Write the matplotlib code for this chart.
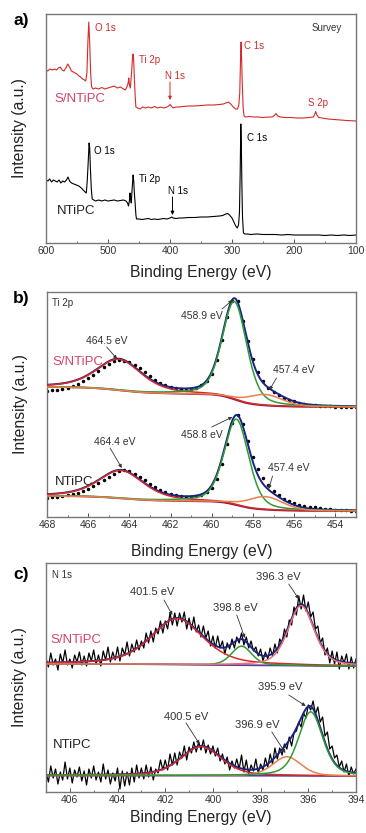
import numpy as np
import matplotlib.pyplot as plt
from matplotlib.ticker import MultipleLocator

plt.rcParams['font.family'] = ['Liberation Sans', 'DejaVu Sans']

# ---------------- a) survey spectra (binding energy, intensity) ----------------
survey_e_s = [600, 597, 594, 590, 586, 583, 580, 577, 574, 571, 568, 565, 562, 559, 556, 553, 550, 547, 544,
              541, 538, 536, 534, 532.5, 531, 529.5, 528, 526.5, 524, 520, 515, 510, 505, 500, 495, 490, 485,
              480, 475, 472, 469.5, 467.5, 466.5, 465.5, 464, 462, 460.5, 459.5, 458.5, 457.5, 456, 455, 452,
              448, 444, 440, 435, 430, 425, 420, 415, 410, 405, 402, 400, 398, 395, 390, 385, 380, 370, 360,
              350, 340, 330, 320, 314, 310, 306, 302, 298, 294, 291, 289, 287.5, 286, 285.3, 284.5, 283.5,
              282, 280.5, 278, 272, 265, 258, 250, 240, 235, 231, 229, 226.5, 222, 215, 205, 195, 185, 175,
              169, 167, 165, 163, 160, 155, 145, 135, 125, 115, 100]
survey_i_s = [173, 172, 174, 173, 174, 173, 175, 176, 173, 172, 175, 179, 176, 172, 171, 170, 169, 167, 166,
              164, 163, 162, 170, 200, 221, 200, 170, 156, 154, 155, 154, 155.5, 154, 155, 156, 157, 155,
              156, 154, 153, 156, 160, 165, 158, 155, 170, 185, 189, 182, 165, 145, 136, 135,
              134, 136, 135, 136, 135, 136.5, 135, 136, 135, 136, 137, 138.5, 137, 135, 136, 136, 136.5, 137, 137,
              137.5, 138, 138, 138.5, 139, 140, 141, 139, 136, 134, 134, 138, 150, 190, 201, 185, 160,
              135, 127, 126, 126.5, 126, 126, 125.5, 126, 126, 128, 129.5, 127, 126, 125.5, 125.5, 125, 125, 125.5,
              126, 128, 131.5, 128, 125.5, 125, 124, 123.5, 123, 122.5, 122]

survey_e_n = [600, 597, 594, 591, 588, 585, 582, 579, 576, 573, 570, 567, 564.5, 562, 559, 555, 551, 547, 543,
              540, 537, 535, 533.5, 532, 530.5, 529.5, 528.5, 527, 525.5, 523, 520, 515, 510, 505, 500, 495,
              490, 485, 480, 475, 471, 468.5, 467, 465.5, 464.5, 463.5, 462.5, 461, 459.5, 458.5, 457.5,
              456.5, 455, 454, 450, 445, 440, 435, 430, 425, 420, 415, 410, 405, 400, 397, 395, 390, 385,
              380, 370, 360, 350, 340, 330, 320, 315, 310, 307, 304, 300, 297, 294, 291.5, 289.5, 288,
              286.8, 285.8, 285, 284, 283, 281.5, 279, 275, 270, 260, 250, 240, 230, 220, 210, 200, 190,
              180, 170, 160, 150, 140, 130, 120, 110, 100]
survey_i_n = [63, 62, 64, 61, 63, 62, 61, 63, 60, 62, 61, 63, 66, 62, 60, 59, 58, 57, 55,
              53, 51, 50, 62, 80, 100, 95, 76, 55, 44, 43, 42, 43, 42, 43, 42, 42.5,
              43, 42, 42.5, 43, 42, 40, 37, 42, 50, 44, 40, 55, 68, 62, 50,
              42, 28, 24, 24, 23.5, 24, 24.5, 23.5, 24, 23.5, 24, 24.5, 24, 25, 26, 25, 24.5, 25,
              25, 25.5, 25.5, 26, 26, 26.5, 27, 27.5, 29, 29.5, 28, 25, 21, 17, 15, 18, 30,
              70, 119, 100, 56, 25, 10, 9, 9, 8.5, 9, 8.5, 8.5, 8.5, 8, 8.5, 8, 8,
              8, 8, 8, 7.5, 8, 7.5, 8, 7.5, 8]

# ---------------- b) Ti 2p (raw points every 0.25 eV from 468 to 453) ----------------
ti_e_range = (468, 453)
ti_s_raw = [126, 127.5, 127, 128, 129, 131, 133, 136, 139, 142.5, 146, 150, 153, 156, 157.5,
            156.5, 155, 152, 149, 145, 141, 137.5, 134.5, 132, 130.5, 129, 128, 127.5, 128, 129.5,
            132, 136.5, 143, 157, 177, 200, 216, 216, 196, 176, 158, 145, 136, 129.5, 125.5, 122, 119.5,
            117.5, 116, 114.5, 113.5, 112.5, 112, 111.5, 111, 111, 110.5, 110.5, 110, 110, 110]
ti_n_raw = [19.5, 20.5, 20.5, 21, 22, 23, 24.5, 26.5, 28.5, 31, 34, 37.5, 40.5, 43.5, 46, 47, 46, 43.5,
            40.5, 37, 33.5, 30.5, 27.5, 25, 23.5, 22, 21, 20.5, 20.5, 21, 22.5, 25, 29, 38, 53, 73, 94,
            102, 93, 76, 60, 48, 39, 32, 26.5, 22, 18.5, 16, 14, 12.5, 11.5, 10.5, 10, 9, 8.5, 8, 7.5,
            7, 7, 6.5, 6.5]
# fit components: centre (eV), height, FWHM (eV), Lorentz fraction; background (high-E, low-E)
ti_s_center = [464.5, 458.9, 457.4]
ti_s_height = [31, 98, 11]
ti_s_fwhm = [2.6, 1.4, 2.0]
ti_s_eta = [0.5, 0.35, 0.2]
ti_s_bg = (130, 110)
ti_n_center = [464.4, 458.8, 457.4]
ti_n_height = [28, 86, 13]
ti_n_fwhm = [2.6, 1.4, 2.0]
ti_n_eta = [0.5, 0.35, 0.2]
ti_n_bg = (21, 6)

# ---------------- c) N 1s (raw points every 0.1 eV from 407 to 394) ----------------
n_e_range = (407, 394)
n_s_raw = [134, 125, 139, 127, 133, 122, 138, 129, 142, 127,
           133, 124, 137, 130, 140, 127, 136, 126, 139, 131,
           142, 128, 137, 126, 141, 132, 145, 130, 140, 132,
           145, 131, 144, 137, 150, 136, 148, 140, 152, 142,
           151, 144, 159, 149, 161, 150, 164, 158, 171, 159,
           171, 163, 179, 167, 179, 166, 179, 170, 180, 163,
           174, 162, 175, 160, 167, 155, 166, 154, 161, 146,
           156, 144, 156, 144, 151, 138, 149, 143, 153, 144,
           155, 149, 159, 147, 155, 144, 151, 141, 145, 136,
           143, 131, 140, 133, 144, 136, 148, 139, 153, 149,
           163, 155, 172, 167, 185, 177, 196, 183, 197, 181,
           190, 175, 180, 163, 166, 149, 154, 137, 144, 129,
           141, 128, 140, 123, 136, 129, 138, 123, 135, 124,
           133]
n_n_raw = [20, 10, 26, 14, 23, 8, 20, 12, 30, 13,
           24, 9, 22, 15, 25, 11, 21, 7, 23, 14,
           26, 12, 20, 10, 28, 13, 22, 8, 19, 11,
           24, 3, 21, 6, 20, 7, 24, 10, 27, 14,
           24, 13, 27, 15, 25, 12, 23, 19, 32, 22,
           32, 22, 38, 27, 39, 27, 40, 34, 46, 32,
           45, 39, 50, 40, 50, 42, 52, 39, 47, 38,
           46, 36, 44, 31, 38, 28, 35, 22, 31, 24,
           33, 23, 37, 20, 32, 18, 27, 21, 33, 19,
           28, 22, 34, 25, 38, 28, 44, 33, 44, 37,
           48, 43, 55, 46, 59, 61, 70, 65, 79, 74,
           87, 82, 91, 78, 85, 70, 75, 56, 60, 43,
           46, 34, 37, 25, 31, 20, 28, 16, 25, 18,
           23]
n_s_center = [401.5, 398.8, 396.3]
n_s_height = [46, 19, 60]
n_s_fwhm = [2.6, 1.0, 1.3]
n_s_eta = [0.5, 0.3, 0.4]
n_s_bg = (128, 126)
n_n_center = [400.5, 396.9, 395.9]
n_n_height = [29, 19, 64]
n_n_fwhm = [2.0, 1.4, 1.2]
n_n_eta = [0.4, 0.3, 0.4]
n_n_bg = (16.5, 16)

RED = '#d42a2a'
PINK = '#d4456a'
NAVY = '#1c2380'
GREEN = '#2f9a35'
ORANGE = '#e8804f'
MAROON = '#8e1a45'
PURPLE = '#5a3f95'
SALMON = '#ee6f6f'
TXT = '#333333'


def pvoigt(e, c, h, w, eta):
    x = (e - c) / w
    return h * (eta / (1 + 4 * x ** 2) + (1 - eta) * np.exp(-4 * np.log(2) * x ** 2))


def shirley(e, total, hi, lo):
    # e runs from high to low binding energy
    es = e[::-1]
    ts = total[::-1]
    cum = np.concatenate([[0], np.cumsum((ts[1:] + ts[:-1]) / 2 * np.diff(es))])
    return (lo + (hi - lo) * cum / cum[-1])[::-1]


def draw_fit(ax, erange, centers, heights, fwhms, etas, bg, colors, bg_color):
    e = np.linspace(erange[0], erange[1], 800)
    comps = [pvoigt(e, c, h, w, m) for c, h, w, m in zip(centers, heights, fwhms, etas)]
    total = np.sum(comps, axis=0)
    base = shirley(e, total, *bg)
    ax.plot(e, base, color=bg_color, lw=1.3, zorder=2)
    ax.plot(e, base + total, color=NAVY, lw=1.4, zorder=3)
    for comp, col in zip(comps, colors):
        ax.plot(e, base + comp, color=col, lw=1.1, zorder=4)


def style(ax, xlim, ylim, major, minor, label_y):
    ax.set_xlim(*xlim)
    ax.set_ylim(*ylim)
    ax.set_yticks([])
    ax.xaxis.set_major_locator(MultipleLocator(major))
    ax.xaxis.set_minor_locator(MultipleLocator(minor))
    ax.tick_params(axis='x', which='major', direction='in', length=3, width=0.7,
                   labelsize=7.5, pad=2.5, labelcolor=TXT, color='#555555')
    ax.tick_params(axis='x', which='minor', direction='in', length=1.8, width=0.6, color='#555555')
    for s in ax.spines.values():
        s.set_color('#777777')
        s.set_linewidth(1.0)
    ax.set_xlabel('Binding Energy (eV)', fontsize=11.3, color='#222222')
    ax.set_ylabel('Intensity (a.u.)', fontsize=11.3, color='#222222')
    ax.xaxis.set_label_coords(0.5, label_y)
    ax.yaxis.set_label_coords(-0.06, 0.5)


def arrow(ax, tail, head, color=TXT, lw=0.6, ms=5):
    ax.annotate('', xy=head, xytext=tail,
                arrowprops=dict(arrowstyle='-|>', color=color, lw=lw, mutation_scale=ms,
                                shrinkA=0, shrinkB=0))


fig = plt.figure(figsize=(3.66, 8.33), dpi=100)
W, H = 366, 833
ax_a = fig.add_axes([46 / W, 1 - 243 / H, 310 / W, 229 / H])
ax_b = fig.add_axes([47 / W, 1 - 517 / H, 309 / W, 225 / H])
ax_c = fig.add_axes([46 / W, 1 - 792 / H, 310 / W, 229 / H])

# ---- a)
ax_a.plot(survey_e_s, survey_i_s, color=RED, lw=0.8)
ax_a.plot(survey_e_n, survey_i_n, color='black', lw=0.8)
style(ax_a, (600, 100), (0, 229), 100, 50, -0.095)
fs = 7
ax_a.text(521, 215, 'O 1s', color=RED, fontsize=fs, va='center')
ax_a.text(450, 183, 'Ti 2p', color=RED, fontsize=fs, va='center')
ax_a.text(408, 167, 'N 1s', color=RED, fontsize=fs, va='center')
ax_a.text(280.6, 197, 'C 1s', color=RED, fontsize=fs, va='center')
ax_a.text(177.4, 140, 'S 2p', color=RED, fontsize=fs, va='center')
ax_a.text(171, 215, 'Survey', color=TXT, fontsize=fs, va='center')
ax_a.text(587, 144, 'S/NTiPC', color=PINK, fontsize=9.5, va='center')
arrow(ax_a, (400, 161), (400, 143), color=RED, lw=0.7, ms=5)
ax_a.text(522.6, 92, 'O 1s', color='black', fontsize=fs, va='center')
ax_a.text(450, 64, 'Ti 2p', color='black', fontsize=fs, va='center')
ax_a.text(403, 52, 'N 1s', color='black', fontsize=fs, va='center')
ax_a.text(276, 105, 'C 1s', color='black', fontsize=fs, va='center')
ax_a.text(582, 32, 'NTiPC', color='#222222', fontsize=9.5, va='center')
arrow(ax_a, (396, 46), (396, 28), color='black', lw=0.7, ms=5)

# ---- b)
ti_e = np.linspace(ti_e_range[0], ti_e_range[1], len(ti_s_raw))
draw_fit(ax_b, ti_e_range, ti_s_center, ti_s_height, ti_s_fwhm, ti_s_eta, ti_s_bg,
         [RED, GREEN, ORANGE], MAROON)
draw_fit(ax_b, ti_e_range, ti_n_center, ti_n_height, ti_n_fwhm, ti_n_eta, ti_n_bg,
         [RED, GREEN, ORANGE], MAROON)
ax_b.plot(ti_e, ti_s_raw, 'o', ms=1.5, color='black', zorder=2.5)
ax_b.plot(ti_e, ti_n_raw, 'o', ms=1.5, color='black', zorder=2.5)
style(ax_b, (468, 453), (0, 225), 2, 1, -0.12)
fa = 7.5
ax_b.text(0.016, 0.95, 'Ti 2p', transform=ax_b.transAxes, fontsize=fs, color=TXT, va='center')
ax_b.text(467.74, 155, 'S/NTiPC', color=PINK, fontsize=9.5, va='center')
ax_b.text(465.08, 176, '464.5 eV', color=TXT, fontsize=fa, ha='center', va='center')
arrow(ax_b, (465.1, 170), (464.6, 158))
ax_b.text(460.48, 201, '458.9 eV', color=TXT, fontsize=fa, ha='center', va='center')
arrow(ax_b, (459.5, 208), (459.0, 217))
ax_b.text(456.03, 147, '457.4 eV', color=TXT, fontsize=fa, ha='center', va='center')
arrow(ax_b, (456.86, 139), (457.2, 127))
ax_b.text(467.6, 35, 'NTiPC', color='#222222', fontsize=9.5, va='center')
ax_b.text(464.7, 75, '464.4 eV', color=TXT, fontsize=fa, ha='center', va='center')
arrow(ax_b, (464.94, 69), (464.37, 49))
ax_b.text(460.48, 82, '458.8 eV', color=TXT, fontsize=fa, ha='center', va='center')
arrow(ax_b, (460.0, 90), (459.0, 100))
ax_b.text(456.28, 49, '457.4 eV', color=TXT, fontsize=fa, ha='center', va='center')
arrow(ax_b, (457.05, 41), (457.24, 28))

# ---- c)
n_e = np.linspace(n_e_range[0], n_e_range[1], len(n_s_raw))
ax_c.plot(n_e, n_s_raw, color='black', lw=0.9, zorder=2)
ax_c.plot(n_e, n_n_raw, color='black', lw=0.9, zorder=2)
draw_fit(ax_c, n_e_range, n_s_center, n_s_height, n_s_fwhm, n_s_eta, n_s_bg,
         [RED, GREEN, SALMON], PURPLE)
draw_fit(ax_c, n_e_range, n_n_center, n_n_height, n_n_fwhm, n_n_eta, n_n_bg,
         [RED, ORANGE, GREEN], PURPLE)
style(ax_c, (407, 394), (0, 229), 2, 1, -0.078)
fc = 8
ax_c.text(0.019, 0.948, 'N 1s', transform=ax_c.transAxes, fontsize=fs, color=TXT, va='center')
ax_c.text(406.83, 152, 'S/NTiPC', color=PINK, fontsize=9.5, va='center')
ax_c.text(402.54, 200, '401.5 eV', color=TXT, fontsize=fc, ha='center', va='center')
arrow(ax_c, (402.05, 192), (401.7, 177))
ax_c.text(399.08, 184, '398.8 eV', color=TXT, fontsize=fc, ha='center', va='center')
arrow(ax_c, (399.0, 177), (398.66, 154))
ax_c.text(397.25, 215, '396.3 eV', color=TXT, fontsize=fc, ha='center', va='center')
arrow(ax_c, (396.82, 208), (396.4, 193))
ax_c.text(406.7, 47, 'NTiPC', color='#222222', fontsize=9.5, va='center')
ax_c.text(397.17, 105, '395.9 eV', color=TXT, fontsize=fc, ha='center', va='center')
arrow(ax_c, (396.82, 97), (396.11, 86))
ax_c.text(401.13, 75, '400.5 eV', color=TXT, fontsize=fc, ha='center', va='center')
arrow(ax_c, (401.13, 69), (400.56, 48))
ax_c.text(398.16, 67, '396.9 eV', color=TXT, fontsize=fc, ha='center', va='center')
arrow(ax_c, (397.53, 60), (396.96, 39))

for lab, py in (('a)', 21), ('b)', 298), ('c)', 574)):
    fig.text(13 / W, 1 - py / H, lab, fontsize=12.5, fontweight='bold', va='center', ha='left')

fig.savefig('out.png', dpi=100)
